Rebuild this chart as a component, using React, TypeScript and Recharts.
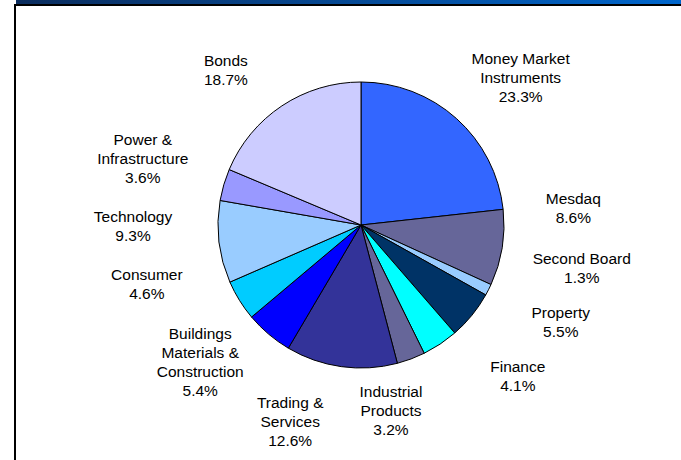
import { Cell, Pie, PieChart } from "recharts";

const sectors = [
  "Money Market\nInstruments",
  "Mesdaq",
  "Second Board",
  "Property",
  "Finance",
  "Industrial\nProducts",
  "Trading &\nServices",
  "Buildings\nMaterials &\nConstruction",
  "Consumer",
  "Technology",
  "Power &\nInfrastructure",
  "Bonds",
];

const shares = [23.3, 8.6, 1.3, 5.5, 4.1, 3.2, 12.6, 5.4, 4.6, 9.3, 3.6, 18.7];

const colors = [
  "#3366FF",
  "#666699",
  "#99CCFF",
  "#003366",
  "#00FFFF",
  "#666699",
  "#333399",
  "#0000FF",
  "#00CCFF",
  "#99CCFF",
  "#9999FF",
  "#CCCCFF",
];

// label placement: angle shift from slice middle (deg, clockwise) and distance from centre
const labelShift = [5.5, -13.8, -15.8, -13.3, -12.4, 11.3, 11.9, 9.4, 16.5, 6.7, 0.5, -7.4];
const labelDist = [217, 213, 225, 222, 218, 188, 209, 211, 222, 228, 228, 206];

const data = sectors.map((name, i) => ({ name, value: shares[i] }));

const LINE_H = 19;

const renderLabel = (props: any) => {
  const { cx, cy, midAngle, index, name, value } = props;
  const clock = 90 - midAngle + labelShift[index];
  const rad = (clock * Math.PI) / 180;
  const d = labelDist[index];
  const x = cx + d * Math.sin(rad);
  const y = cy - d * Math.cos(rad);
  const lines = [...String(name).split("\n"), `${Number(value).toFixed(1)}%`];
  const top = y - ((lines.length - 1) * LINE_H) / 2 + 5.5;
  return (
    <text
      key={`lbl-${index}`}
      x={x}
      y={top}
      textAnchor="middle"
      fill="#000"
      fontSize={15.5}
      fontFamily="'Liberation Sans', Arial, sans-serif"
    >
      {lines.map((l, k) => (
        <tspan key={k} x={x} y={top + k * LINE_H}>
          {l}
        </tspan>
      ))}
    </text>
  );
};

export default function App() {
  return (
    <div
      style={{
        position: "absolute",
        left: 0,
        top: 0,
        width: 681,
        height: 460,
        background: "#fff",
        overflow: "hidden",
      }}
    >
      <div
        style={{
          position: "absolute",
          left: 16,
          top: 0,
          width: 665,
          height: 4,
          background: "linear-gradient(to right, #0b2d5e, #0066cc)",
        }}
      />
      <div
        style={{
          position: "absolute",
          left: 14,
          top: 4,
          width: 700,
          height: 500,
          borderLeft: "2px solid #000",
          borderTop: "2px solid #000",
        }}
      />
      <PieChart
        width={681}
        height={460}
        margin={{ top: 0, right: 0, bottom: 0, left: 0 }}
        style={{ position: "absolute", left: 0, top: 0 }}
      >
        <Pie
          data={data}
          dataKey="value"
          nameKey="name"
          cx={361}
          cy={225}
          outerRadius={143}
          startAngle={90}
          endAngle={-270}
          stroke="#000"
          strokeWidth={1}
          label={renderLabel}
          labelLine={false}
          isAnimationActive={false}
        >
          {data.map((d, i) => (
            <Cell key={d.name} fill={colors[i]} />
          ))}
        </Pie>
      </PieChart>
    </div>
  );
}
